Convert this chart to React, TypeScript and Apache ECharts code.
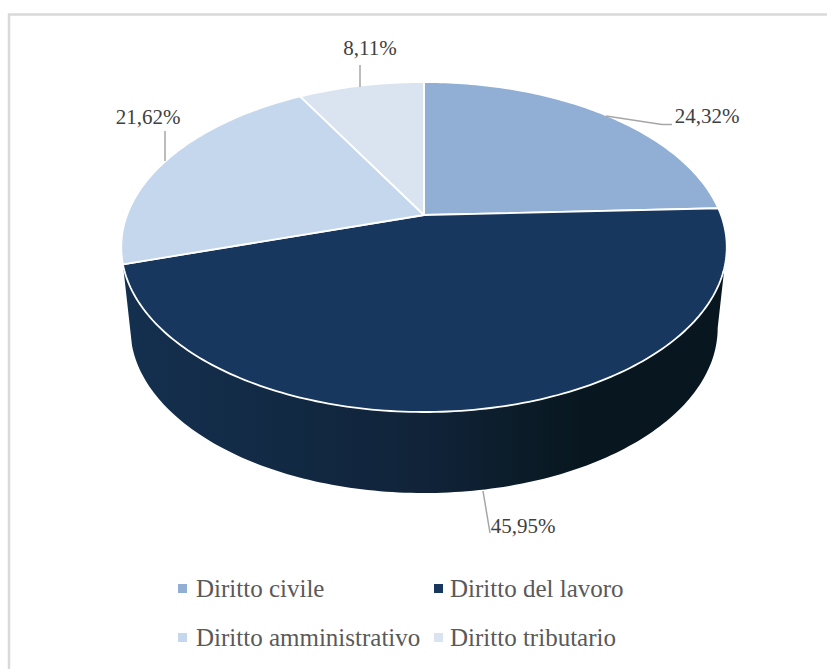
import React, { useEffect, useRef } from "react";
import * as echarts from "echarts";

const categories = ["Diritto civile", "Diritto del lavoro", "Diritto amministrativo", "Diritto tributario"];
const values = [24.32, 45.95, 21.62, 8.11];
const colors = ["#91AFD5", "#17375E", "#C5D7ED", "#DAE3F0"];
const labelTexts = values.map((v) => v.toFixed(2).replace(".", ",") + "%");
const labelCenters = [[707, 116], [523, 526], [148, 117], [370, 48]];
const leaderLines = [
  [[606, 116], [662, 124.5], [672, 124.5]],
  [[483, 491], [490, 533]],
  [[165, 131], [165, 161]],
  [[360, 65], [360, 87]],
];

const FONT = "'Liberation Serif', serif";
const CX = 424, CY = 215, B = 297, A = 158.8, K = 0.194;
const DEPTH = 81, BOTTOM_SCALE = 0.97;
// fraction of the turn where the rim is widest on the right: the side wall's silhouette starts there
const RIGHT_TANGENT = Math.acos(-K) / (2 * Math.PI);

function project(frac: number): [number, number] {
  const t = frac * 2 * Math.PI;
  const X = Math.sin(t), Y = Math.cos(t);
  const w = 1 + K * Y;
  return [CX + (B * X) / w, CY - (A * Y) / w];
}

function arc(start: number, end: number): [number, number][] {
  const n = Math.max(8, Math.ceil((end - start) * 360));
  const pts: [number, number][] = [];
  for (let i = 0; i <= n; i++) pts.push(project(start + ((end - start) * i) / n));
  return pts;
}

const total = values.reduce((a, b) => a + b, 0);
const starts = values.map((_, i) => values.slice(0, i).reduce((a, b) => a + b, 0));

export default function App() {
  const ref = useRef<HTMLDivElement>(null);
  useEffect(() => {
    const chart = echarts.init(ref.current!, undefined, { renderer: "svg" });
    const sideGradient = new echarts.graphic.LinearGradient(0, 0, 1, 0, [
      { offset: 0, color: "#14304F" },
      { offset: 0.5, color: "#102339" },
      { offset: 0.76, color: "#08171F" },
      { offset: 1, color: "#08171F" },
    ]);
    const legendBase = {
      orient: "vertical" as const,
      icon: "rect",
      itemWidth: 9,
      itemHeight: 9,
      itemGap: 24,
      selectedMode: false,
      padding: 0,
    };
    const legendText = (leftPad: number) => ({
      fontFamily: FONT,
      fontSize: 25,
      color: "#595959",
      padding: [0, 0, 0, leftPad],
    });
    chart.setOption({
      animation: false,
      backgroundColor: "#ffffff",
      legend: [
        { ...legendBase, left: 178, top: 576, textStyle: legendText(4), data: [categories[0], categories[2]] },
        { ...legendBase, left: 434, top: 576, textStyle: legendText(2), data: [categories[1], categories[3]] },
      ],
      graphic: [
        {
          type: "rect",
          silent: true,
          z: -1,
          shape: { x: 9, y: 14.5, width: 900, height: 800 },
          style: { fill: "none", stroke: "#D9D9D9", lineWidth: 2.5 },
        },
        ...leaderLines.map((points) => ({
          type: "polyline",
          silent: true,
          z: 20,
          shape: { points },
          style: { fill: "none", stroke: "#A6A6A6", lineWidth: 1.5 },
        })),
        ...labelTexts.map((text, i) => ({
          type: "text",
          silent: true,
          z: 21,
          x: labelCenters[i][0],
          y: labelCenters[i][1],
          style: {
            text,
            fontFamily: FONT,
            fontSize: 21,
            fill: "#404040",
            align: "center",
            verticalAlign: "middle",
          },
        })),
      ],
      series: [
        {
          type: "custom",
          name: "side",
          coordinateSystem: "none",
          silent: true,
          z: 1,
          data: [[values[1] / total, starts[1] / total]],
          renderItem: (_p: unknown, api: any) => {
            const s = api.value(1), e = s + api.value(0);
            const top = arc(Math.max(s, RIGHT_TANGENT), e);
            const bottom = top
              .map(([x, y]) => [CX + (x - CX) * BOTTOM_SCALE, y + DEPTH])
              .reverse();
            return {
              type: "polygon",
              shape: { points: [...top, ...bottom] },
              style: { fill: sideGradient, stroke: "none" },
            };
          },
        },
        ...categories.map((name, i) => ({
          type: "custom",
          name,
          coordinateSystem: "none",
          silent: true,
          z: 2,
          itemStyle: { color: colors[i] },
          data: [[values[i] / total, starts[i] / total]],
          renderItem: (_p: unknown, api: any) => {
            const s = api.value(1), e = s + api.value(0);
            return {
              type: "polygon",
              shape: { points: [[CX, CY], ...arc(s, e)] },
              style: { fill: colors[i], stroke: "#FFFFFF", lineWidth: 1.8, lineJoin: "round" },
            };
          },
        })),
      ],
    });
    return () => chart.dispose();
  }, []);
  return (
    <div
      ref={ref}
      style={{ position: "absolute", left: 0, top: 0, width: 827, height: 669 }}
    />
  );
}
